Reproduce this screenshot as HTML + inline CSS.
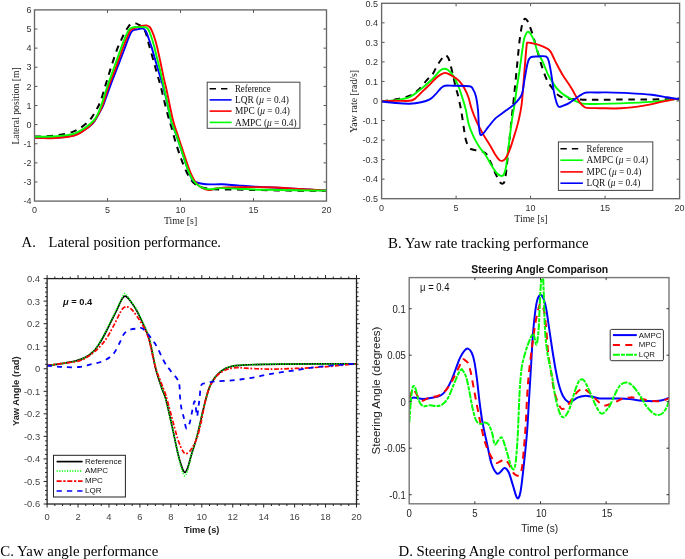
<!DOCTYPE html>
<html><head><meta charset="utf-8"><style>html,body{margin:0;padding:0;background:#fff;width:685px;height:559px;overflow:hidden}svg{display:block;will-change:transform}</style></head>
<body>
<svg width="685" height="559" viewBox="0 0 685 559">
<rect width="685" height="559" fill="#fff"/>
<defs>
<clipPath id="cA"><rect x="34.5" y="10" width="292" height="191"/></clipPath>
<clipPath id="cB"><rect x="381.6" y="3.3" width="298" height="195.4"/></clipPath>
<clipPath id="cC"><rect x="47.1" y="278.6" width="309.4" height="225.4"/></clipPath>
<clipPath id="cD"><rect x="409.2" y="277.6" width="259.8" height="226.2"/></clipPath>
</defs>
<text x="34.50" y="212.80" font-family="Liberation Sans, sans-serif" font-size="9" text-anchor="middle" fill="#333">0</text>
<line x1="107.50" y1="201.10" x2="107.50" y2="198.10" stroke="#555" stroke-width="1" />
<line x1="107.50" y1="9.90" x2="107.50" y2="12.90" stroke="#555" stroke-width="1" />
<text x="107.50" y="212.80" font-family="Liberation Sans, sans-serif" font-size="9" text-anchor="middle" fill="#333">5</text>
<line x1="180.50" y1="201.10" x2="180.50" y2="198.10" stroke="#555" stroke-width="1" />
<line x1="180.50" y1="9.90" x2="180.50" y2="12.90" stroke="#555" stroke-width="1" />
<text x="180.50" y="212.80" font-family="Liberation Sans, sans-serif" font-size="9" text-anchor="middle" fill="#333">10</text>
<line x1="253.50" y1="201.10" x2="253.50" y2="198.10" stroke="#555" stroke-width="1" />
<line x1="253.50" y1="9.90" x2="253.50" y2="12.90" stroke="#555" stroke-width="1" />
<text x="253.50" y="212.80" font-family="Liberation Sans, sans-serif" font-size="9" text-anchor="middle" fill="#333">15</text>
<text x="326.50" y="212.80" font-family="Liberation Sans, sans-serif" font-size="9" text-anchor="middle" fill="#333">20</text>
<text x="31.60" y="204.30" font-family="Liberation Sans, sans-serif" font-size="9" text-anchor="end" fill="#333">-4</text>
<line x1="34.50" y1="181.98" x2="37.50" y2="181.98" stroke="#555" stroke-width="1" />
<line x1="326.50" y1="181.98" x2="323.50" y2="181.98" stroke="#555" stroke-width="1" />
<text x="31.60" y="185.18" font-family="Liberation Sans, sans-serif" font-size="9" text-anchor="end" fill="#333">-3</text>
<line x1="34.50" y1="162.86" x2="37.50" y2="162.86" stroke="#555" stroke-width="1" />
<line x1="326.50" y1="162.86" x2="323.50" y2="162.86" stroke="#555" stroke-width="1" />
<text x="31.60" y="166.06" font-family="Liberation Sans, sans-serif" font-size="9" text-anchor="end" fill="#333">-2</text>
<line x1="34.50" y1="143.74" x2="37.50" y2="143.74" stroke="#555" stroke-width="1" />
<line x1="326.50" y1="143.74" x2="323.50" y2="143.74" stroke="#555" stroke-width="1" />
<text x="31.60" y="146.94" font-family="Liberation Sans, sans-serif" font-size="9" text-anchor="end" fill="#333">-1</text>
<line x1="34.50" y1="124.62" x2="37.50" y2="124.62" stroke="#555" stroke-width="1" />
<line x1="326.50" y1="124.62" x2="323.50" y2="124.62" stroke="#555" stroke-width="1" />
<text x="31.60" y="127.82" font-family="Liberation Sans, sans-serif" font-size="9" text-anchor="end" fill="#333">0</text>
<line x1="34.50" y1="105.50" x2="37.50" y2="105.50" stroke="#555" stroke-width="1" />
<line x1="326.50" y1="105.50" x2="323.50" y2="105.50" stroke="#555" stroke-width="1" />
<text x="31.60" y="108.70" font-family="Liberation Sans, sans-serif" font-size="9" text-anchor="end" fill="#333">1</text>
<line x1="34.50" y1="86.38" x2="37.50" y2="86.38" stroke="#555" stroke-width="1" />
<line x1="326.50" y1="86.38" x2="323.50" y2="86.38" stroke="#555" stroke-width="1" />
<text x="31.60" y="89.58" font-family="Liberation Sans, sans-serif" font-size="9" text-anchor="end" fill="#333">2</text>
<line x1="34.50" y1="67.26" x2="37.50" y2="67.26" stroke="#555" stroke-width="1" />
<line x1="326.50" y1="67.26" x2="323.50" y2="67.26" stroke="#555" stroke-width="1" />
<text x="31.60" y="70.46" font-family="Liberation Sans, sans-serif" font-size="9" text-anchor="end" fill="#333">3</text>
<line x1="34.50" y1="48.14" x2="37.50" y2="48.14" stroke="#555" stroke-width="1" />
<line x1="326.50" y1="48.14" x2="323.50" y2="48.14" stroke="#555" stroke-width="1" />
<text x="31.60" y="51.34" font-family="Liberation Sans, sans-serif" font-size="9" text-anchor="end" fill="#333">4</text>
<line x1="34.50" y1="29.02" x2="37.50" y2="29.02" stroke="#555" stroke-width="1" />
<line x1="326.50" y1="29.02" x2="323.50" y2="29.02" stroke="#555" stroke-width="1" />
<text x="31.60" y="32.22" font-family="Liberation Sans, sans-serif" font-size="9" text-anchor="end" fill="#333">5</text>
<text x="31.60" y="13.10" font-family="Liberation Sans, sans-serif" font-size="9" text-anchor="end" fill="#333">6</text>
<path d="M34.50,136.60 C36.25,136.57 40.95,136.67 45.00,136.40 C49.05,136.13 54.30,135.72 58.80,135.00 C63.30,134.28 68.35,133.32 72.00,132.10 C75.65,130.88 77.78,129.65 80.70,127.70 C83.62,125.75 87.07,123.07 89.50,120.40 C91.93,117.73 93.45,114.92 95.30,111.70 C97.15,108.48 98.82,105.78 100.60,101.10 C102.38,96.42 104.20,89.42 106.00,83.60 C107.80,77.78 109.60,71.78 111.40,66.20 C113.20,60.62 115.12,54.57 116.80,50.10 C118.48,45.63 120.22,42.25 121.50,39.40 C122.78,36.55 123.50,34.90 124.50,33.00 C125.50,31.10 126.50,29.45 127.50,28.00 C128.50,26.55 129.50,25.10 130.50,24.30 C131.50,23.50 132.50,23.32 133.50,23.20 C134.50,23.08 135.58,23.33 136.50,23.60 C137.42,23.87 138.17,24.35 139.00,24.80 C139.83,25.25 140.67,25.63 141.50,26.30 C142.33,26.97 143.17,27.35 144.00,28.80 C144.83,30.25 145.62,32.13 146.50,35.00 C147.38,37.87 148.05,41.42 149.30,46.00 C150.55,50.58 152.67,57.70 154.00,62.50 C155.33,67.30 156.25,71.10 157.30,74.80 C158.35,78.50 159.18,80.50 160.30,84.70 C161.42,88.90 162.72,94.82 164.00,100.00 C165.28,105.18 166.78,111.35 168.00,115.80 C169.22,120.25 170.07,122.42 171.30,126.70 C172.53,130.98 173.83,136.35 175.40,141.50 C176.97,146.65 178.92,152.68 180.70,157.60 C182.48,162.52 184.30,167.20 186.10,171.00 C187.90,174.80 189.93,178.17 191.50,180.40 C193.07,182.63 193.75,183.22 195.50,184.40 C197.25,185.58 198.88,186.68 202.00,187.50 C205.12,188.32 209.25,188.97 214.20,189.30 C219.15,189.63 225.47,189.40 231.70,189.50 C237.93,189.60 242.25,189.72 251.60,189.90 C260.95,190.08 275.32,190.45 287.80,190.60 C300.28,190.75 320.05,190.77 326.50,190.80" fill="none" stroke="#000" stroke-width="2" stroke-linejoin="round" stroke-linecap="butt" stroke-dasharray="6.5 5.6" clip-path="url(#cA)"/>
<path d="M34.50,137.60 C37.33,137.68 45.02,138.43 51.50,138.10 C57.98,137.77 68.05,136.87 73.40,135.60 C78.75,134.33 80.43,132.47 83.60,130.50 C86.77,128.53 90.17,126.05 92.40,123.80 C94.63,121.55 95.68,119.13 97.00,117.00 C98.32,114.87 99.23,113.00 100.30,111.00 C101.37,109.00 101.77,109.12 103.40,105.00 C105.03,100.88 107.87,92.32 110.10,86.30 C112.33,80.28 114.57,74.70 116.80,68.90 C119.03,63.10 121.72,56.20 123.50,51.50 C125.28,46.80 126.33,43.70 127.50,40.70 C128.67,37.70 129.53,35.23 130.50,33.50 C131.47,31.77 132.13,31.00 133.30,30.30 C134.47,29.60 136.38,29.57 137.50,29.30 C138.62,29.03 139.05,28.82 140.00,28.70 C140.95,28.58 142.22,28.17 143.20,28.60 C144.18,29.03 145.00,29.68 145.90,31.30 C146.80,32.92 147.62,35.53 148.60,38.30 C149.58,41.07 150.55,43.80 151.80,47.90 C153.05,52.00 154.85,58.60 156.10,62.90 C157.35,67.20 158.27,70.25 159.30,73.70 C160.33,77.15 161.10,79.22 162.30,83.60 C163.50,87.98 165.12,94.10 166.50,100.00 C167.88,105.90 169.68,115.08 170.60,119.00 C171.52,122.92 170.98,120.65 172.00,123.50 C173.02,126.35 175.02,131.32 176.70,136.10 C178.38,140.88 180.32,146.83 182.10,152.20 C183.88,157.57 186.00,164.33 187.40,168.30 C188.80,172.27 189.60,173.98 190.50,176.00 C191.40,178.02 191.75,179.33 192.80,180.40 C193.85,181.47 195.23,181.83 196.80,182.40 C198.37,182.97 200.00,183.47 202.20,183.80 C204.40,184.13 206.63,184.32 210.00,184.40 C213.37,184.48 217.80,184.13 222.40,184.30 C227.00,184.47 232.17,185.02 237.60,185.40 C243.03,185.78 245.72,186.07 255.00,186.60 C264.28,187.13 281.38,187.93 293.30,188.60 C305.22,189.27 320.97,190.27 326.50,190.60" fill="none" stroke="#0000ff" stroke-width="1.9" stroke-linejoin="round" stroke-linecap="butt" clip-path="url(#cA)"/>
<path d="M34.50,137.70 C37.33,137.78 45.02,138.52 51.50,138.20 C57.98,137.88 68.05,137.05 73.40,135.80 C78.75,134.55 80.43,132.77 83.60,130.70 C86.77,128.63 89.97,126.08 92.40,123.40 C94.83,120.72 96.48,117.67 98.20,114.60 C99.92,111.53 100.95,109.72 102.70,105.00 C104.45,100.28 106.58,92.32 108.70,86.30 C110.82,80.28 113.17,74.93 115.40,68.90 C117.63,62.87 120.20,55.25 122.10,50.10 C124.00,44.95 125.45,41.25 126.80,38.00 C128.15,34.75 129.00,32.22 130.20,30.60 C131.40,28.98 132.58,28.92 134.00,28.30 C135.42,27.68 137.33,27.30 138.70,26.90 C140.07,26.50 140.92,26.15 142.20,25.90 C143.48,25.65 145.15,25.22 146.40,25.40 C147.65,25.58 148.80,26.12 149.70,27.00 C150.60,27.88 150.92,28.65 151.80,30.70 C152.68,32.75 153.92,35.72 155.00,39.30 C156.08,42.88 157.22,47.55 158.30,52.20 C159.38,56.85 160.52,62.57 161.50,67.20 C162.48,71.83 163.35,76.20 164.20,80.00 C165.05,83.80 165.18,83.50 166.60,90.00 C168.02,96.50 170.80,111.32 172.70,119.00 C174.60,126.68 176.22,130.57 178.00,136.10 C179.78,141.63 181.60,146.83 183.40,152.20 C185.20,157.57 187.23,164.05 188.80,168.30 C190.37,172.55 191.47,175.12 192.80,177.70 C194.13,180.28 195.23,182.12 196.80,183.80 C198.37,185.48 200.40,186.80 202.20,187.80 C204.00,188.80 206.13,189.43 207.60,189.80 C209.07,190.17 209.70,190.23 211.00,190.00 C212.30,189.77 212.92,188.83 215.40,188.40 C217.88,187.97 221.23,187.60 225.90,187.40 C230.57,187.20 236.88,187.23 243.40,187.20 C249.92,187.17 257.60,187.05 265.00,187.20 C272.40,187.35 280.35,187.72 287.80,188.10 C295.25,188.48 303.25,189.08 309.70,189.50 C316.15,189.92 323.70,190.42 326.50,190.60" fill="none" stroke="#ff0000" stroke-width="1.9" stroke-linejoin="round" stroke-linecap="butt" clip-path="url(#cA)"/>
<path d="M34.50,136.90 C38.07,136.78 49.42,136.70 55.90,136.20 C62.38,135.70 68.53,135.32 73.40,133.90 C78.27,132.48 81.68,129.95 85.10,127.70 C88.52,125.45 91.72,122.83 93.90,120.40 C96.08,117.97 96.95,115.67 98.20,113.10 C99.45,110.53 99.87,109.47 101.40,105.00 C102.93,100.53 105.28,92.55 107.40,86.30 C109.52,80.05 111.87,73.75 114.10,67.50 C116.33,61.25 118.90,53.93 120.80,48.80 C122.70,43.67 124.10,39.92 125.50,36.70 C126.90,33.48 127.98,31.07 129.20,29.50 C130.42,27.93 131.42,27.70 132.80,27.30 C134.18,26.90 135.40,27.10 137.50,27.10 C139.60,27.10 143.63,26.97 145.40,27.30 C147.17,27.63 147.22,27.82 148.10,29.10 C148.98,30.38 149.72,32.22 150.70,35.00 C151.68,37.78 152.92,41.85 154.00,45.80 C155.08,49.75 156.13,54.42 157.20,58.70 C158.27,62.98 159.18,66.28 160.40,71.50 C161.62,76.72 162.78,82.08 164.50,90.00 C166.22,97.92 169.45,113.42 170.70,119.00 C171.95,124.58 171.00,120.65 172.00,123.50 C173.00,126.35 175.02,131.32 176.70,136.10 C178.38,140.88 180.32,146.83 182.10,152.20 C183.88,157.57 185.83,164.05 187.40,168.30 C188.97,172.55 190.15,175.23 191.50,177.70 C192.85,180.17 193.93,181.53 195.50,183.10 C197.07,184.67 198.88,186.10 200.90,187.10 C202.92,188.10 205.58,188.78 207.60,189.10 C209.62,189.42 210.93,189.17 213.00,189.00 C215.07,188.83 215.90,188.15 220.00,188.10 C224.10,188.05 230.10,188.42 237.60,188.70 C245.10,188.98 250.18,189.48 265.00,189.80 C279.82,190.12 316.25,190.47 326.50,190.60" fill="none" stroke="#00ff00" stroke-width="1.9" stroke-linejoin="round" stroke-linecap="butt" clip-path="url(#cA)"/>
<rect x="34.5" y="9.9" width="292.0" height="191.2" fill="none" stroke="#676767" stroke-width="1.35"/>
<text x="180.60" y="223.60" font-family="Liberation Serif, serif" font-size="9.8" text-anchor="middle" fill="#222" textLength="33.3" lengthAdjust="spacingAndGlyphs">Time [s]</text>
<text x="18.60" y="105.90" font-family="Liberation Serif, serif" font-size="9.7" text-anchor="middle" fill="#222" textLength="77.3" lengthAdjust="spacingAndGlyphs" transform="rotate(-90 18.60 105.90)">Lateral position [m]</text>
<rect x="207.2" y="82.2" width="92.7" height="46.1" fill="#fff" stroke="#444" stroke-width="1"/>
<line x1="209.60" y1="88.70" x2="231.60" y2="88.70" stroke="#000" stroke-width="1.6" stroke-dasharray="6.4 5"/>
<text x="235.00" y="91.90" font-family="Liberation Serif, serif" font-size="9.4" text-anchor="start" fill="#111" textLength="35.7" lengthAdjust="spacingAndGlyphs">Reference</text>
<line x1="209.60" y1="99.90" x2="231.60" y2="99.90" stroke="#0000ff" stroke-width="1.6" />
<text x="235" y="103.10" font-family="Liberation Serif, serif" font-size="9.4" fill="#111">LQR (<tspan font-style="italic">μ</tspan> = 0.4)</text>
<line x1="209.60" y1="111.10" x2="231.60" y2="111.10" stroke="#ff0000" stroke-width="1.6" />
<text x="235" y="114.30" font-family="Liberation Serif, serif" font-size="9.4" fill="#111">MPC (<tspan font-style="italic">μ</tspan> = 0.4)</text>
<line x1="209.60" y1="122.40" x2="231.60" y2="122.40" stroke="#00ff00" stroke-width="1.6" />
<text x="235" y="125.60" font-family="Liberation Serif, serif" font-size="9.4" fill="#111">AMPC (<tspan font-style="italic">μ</tspan> = 0.4)</text>
<text x="381.60" y="210.80" font-family="Liberation Sans, sans-serif" font-size="9" text-anchor="middle" fill="#333">0</text>
<line x1="456.10" y1="198.70" x2="456.10" y2="195.70" stroke="#555" stroke-width="1" />
<line x1="456.10" y1="3.30" x2="456.10" y2="6.30" stroke="#555" stroke-width="1" />
<text x="456.10" y="210.80" font-family="Liberation Sans, sans-serif" font-size="9" text-anchor="middle" fill="#333">5</text>
<line x1="530.60" y1="198.70" x2="530.60" y2="195.70" stroke="#555" stroke-width="1" />
<line x1="530.60" y1="3.30" x2="530.60" y2="6.30" stroke="#555" stroke-width="1" />
<text x="530.60" y="210.80" font-family="Liberation Sans, sans-serif" font-size="9" text-anchor="middle" fill="#333">10</text>
<line x1="605.10" y1="198.70" x2="605.10" y2="195.70" stroke="#555" stroke-width="1" />
<line x1="605.10" y1="3.30" x2="605.10" y2="6.30" stroke="#555" stroke-width="1" />
<text x="605.10" y="210.80" font-family="Liberation Sans, sans-serif" font-size="9" text-anchor="middle" fill="#333">15</text>
<text x="679.60" y="210.80" font-family="Liberation Sans, sans-serif" font-size="9" text-anchor="middle" fill="#333">20</text>
<text x="378.10" y="201.90" font-family="Liberation Sans, sans-serif" font-size="9" text-anchor="end" fill="#333">-0.5</text>
<line x1="381.60" y1="179.16" x2="384.60" y2="179.16" stroke="#555" stroke-width="1" />
<line x1="679.60" y1="179.16" x2="676.60" y2="179.16" stroke="#555" stroke-width="1" />
<text x="378.10" y="182.36" font-family="Liberation Sans, sans-serif" font-size="9" text-anchor="end" fill="#333">-0.4</text>
<line x1="381.60" y1="159.62" x2="384.60" y2="159.62" stroke="#555" stroke-width="1" />
<line x1="679.60" y1="159.62" x2="676.60" y2="159.62" stroke="#555" stroke-width="1" />
<text x="378.10" y="162.82" font-family="Liberation Sans, sans-serif" font-size="9" text-anchor="end" fill="#333">-0.3</text>
<line x1="381.60" y1="140.08" x2="384.60" y2="140.08" stroke="#555" stroke-width="1" />
<line x1="679.60" y1="140.08" x2="676.60" y2="140.08" stroke="#555" stroke-width="1" />
<text x="378.10" y="143.28" font-family="Liberation Sans, sans-serif" font-size="9" text-anchor="end" fill="#333">-0.2</text>
<line x1="381.60" y1="120.54" x2="384.60" y2="120.54" stroke="#555" stroke-width="1" />
<line x1="679.60" y1="120.54" x2="676.60" y2="120.54" stroke="#555" stroke-width="1" />
<text x="378.10" y="123.74" font-family="Liberation Sans, sans-serif" font-size="9" text-anchor="end" fill="#333">-0.1</text>
<line x1="381.60" y1="101.00" x2="384.60" y2="101.00" stroke="#555" stroke-width="1" />
<line x1="679.60" y1="101.00" x2="676.60" y2="101.00" stroke="#555" stroke-width="1" />
<text x="378.10" y="104.20" font-family="Liberation Sans, sans-serif" font-size="9" text-anchor="end" fill="#333">0</text>
<line x1="381.60" y1="81.46" x2="384.60" y2="81.46" stroke="#555" stroke-width="1" />
<line x1="679.60" y1="81.46" x2="676.60" y2="81.46" stroke="#555" stroke-width="1" />
<text x="378.10" y="84.66" font-family="Liberation Sans, sans-serif" font-size="9" text-anchor="end" fill="#333">0.1</text>
<line x1="381.60" y1="61.92" x2="384.60" y2="61.92" stroke="#555" stroke-width="1" />
<line x1="679.60" y1="61.92" x2="676.60" y2="61.92" stroke="#555" stroke-width="1" />
<text x="378.10" y="65.12" font-family="Liberation Sans, sans-serif" font-size="9" text-anchor="end" fill="#333">0.2</text>
<line x1="381.60" y1="42.38" x2="384.60" y2="42.38" stroke="#555" stroke-width="1" />
<line x1="679.60" y1="42.38" x2="676.60" y2="42.38" stroke="#555" stroke-width="1" />
<text x="378.10" y="45.58" font-family="Liberation Sans, sans-serif" font-size="9" text-anchor="end" fill="#333">0.3</text>
<line x1="381.60" y1="22.84" x2="384.60" y2="22.84" stroke="#555" stroke-width="1" />
<line x1="679.60" y1="22.84" x2="676.60" y2="22.84" stroke="#555" stroke-width="1" />
<text x="378.10" y="26.04" font-family="Liberation Sans, sans-serif" font-size="9" text-anchor="end" fill="#333">0.4</text>
<text x="378.10" y="6.50" font-family="Liberation Sans, sans-serif" font-size="9" text-anchor="end" fill="#333">0.5</text>
<path d="M381.60,101.30 C383.88,100.98 390.63,100.32 395.30,99.40 C399.97,98.48 405.78,97.35 409.60,95.80 C413.42,94.25 415.33,92.72 418.20,90.10 C421.07,87.48 424.45,82.67 426.80,80.10 C429.15,77.53 430.60,77.07 432.30,74.70 C434.00,72.33 435.45,68.52 437.00,65.90 C438.55,63.28 440.25,60.78 441.60,59.00 C442.95,57.22 444.13,55.60 445.10,55.20 C446.07,54.80 446.72,55.78 447.40,56.60 C448.08,57.42 448.62,58.45 449.20,60.10 C449.78,61.75 450.22,63.78 450.90,66.50 C451.58,69.22 452.52,73.00 453.30,76.40 C454.08,79.80 454.83,83.80 455.60,86.90 C456.37,90.00 457.13,91.90 457.90,95.00 C458.67,98.10 459.58,102.52 460.20,105.50 C460.82,108.48 461.02,109.28 461.60,112.90 C462.18,116.52 462.98,122.67 463.70,127.20 C464.42,131.73 464.93,136.63 465.90,140.10 C466.87,143.57 467.95,146.33 469.50,148.00 C471.05,149.67 473.07,149.52 475.20,150.10 C477.33,150.68 480.40,150.78 482.30,151.50 C484.20,152.22 485.17,152.48 486.60,154.40 C488.03,156.32 489.47,159.90 490.90,163.00 C492.33,166.10 493.77,169.90 495.20,173.00 C496.63,176.10 498.30,179.82 499.50,181.60 C500.70,183.38 501.57,183.70 502.40,183.70 C503.23,183.70 503.90,183.38 504.50,181.60 C505.10,179.82 505.52,176.58 506.00,173.00 C506.48,169.42 506.80,165.83 507.40,160.10 C508.00,154.37 508.92,145.28 509.60,138.60 C510.28,131.92 510.80,126.63 511.50,120.00 C512.20,113.37 512.93,107.25 513.80,98.80 C514.67,90.35 515.72,79.15 516.70,69.30 C517.68,59.45 518.77,47.33 519.70,39.70 C520.63,32.07 521.58,26.87 522.30,23.50 C523.02,20.13 523.45,20.27 524.00,19.50 C524.55,18.73 525.02,18.65 525.60,18.90 C526.18,19.15 526.83,19.88 527.50,21.00 C528.17,22.12 528.60,22.88 529.60,25.60 C530.60,28.32 532.20,33.05 533.50,37.30 C534.80,41.55 536.08,46.50 537.40,51.10 C538.72,55.70 539.92,60.32 541.40,64.90 C542.88,69.48 544.63,74.92 546.30,78.60 C547.97,82.28 549.33,84.18 551.40,87.00 C553.47,89.82 556.02,93.58 558.70,95.50 C561.38,97.42 563.77,97.82 567.50,98.50 C571.23,99.18 575.68,99.40 581.10,99.60 C586.52,99.80 583.58,99.77 600.00,99.70 C616.42,99.63 666.33,99.28 679.60,99.20" fill="none" stroke="#000" stroke-width="2" stroke-linejoin="round" stroke-linecap="butt" stroke-dasharray="6.5 5.6" clip-path="url(#cB)"/>
<path d="M381.60,101.30 C383.88,101.10 390.63,100.78 395.30,100.10 C399.97,99.42 405.30,99.07 409.60,97.20 C413.90,95.33 417.70,91.55 421.10,88.90 C424.50,86.25 427.55,83.57 430.00,81.30 C432.45,79.03 434.05,77.15 435.80,75.30 C437.55,73.45 439.05,71.28 440.50,70.20 C441.95,69.12 443.25,68.83 444.50,68.80 C445.75,68.77 446.73,69.12 448.00,70.00 C449.27,70.88 450.83,72.45 452.10,74.10 C453.37,75.75 454.43,77.58 455.60,79.90 C456.77,82.22 457.93,84.90 459.10,88.00 C460.27,91.10 461.47,94.83 462.60,98.50 C463.73,102.17 464.88,105.70 465.90,110.00 C466.92,114.30 467.38,119.77 468.70,124.30 C470.02,128.83 472.00,133.38 473.80,137.20 C475.60,141.02 477.60,144.33 479.50,147.20 C481.40,150.07 483.30,151.53 485.20,154.40 C487.10,157.27 488.98,161.30 490.90,164.40 C492.82,167.50 495.02,171.08 496.70,173.00 C498.38,174.92 499.82,175.67 501.00,175.90 C502.18,176.13 502.97,175.83 503.80,174.40 C504.63,172.97 505.40,170.40 506.00,167.30 C506.60,164.20 506.80,160.58 507.40,155.80 C508.00,151.02 508.88,144.32 509.60,138.60 C510.32,132.88 510.92,126.93 511.70,121.50 C512.48,116.07 513.50,111.25 514.30,106.00 C515.10,100.75 515.60,96.12 516.50,90.00 C517.40,83.88 518.52,77.35 519.70,69.30 C520.88,61.25 522.63,47.42 523.60,41.70 C524.57,35.98 524.83,36.65 525.50,35.00 C526.17,33.35 526.77,32.00 527.60,31.80 C528.43,31.60 529.35,32.15 530.50,33.80 C531.65,35.45 533.35,38.75 534.50,41.70 C535.65,44.65 536.10,48.30 537.40,51.50 C538.70,54.70 540.50,57.00 542.30,60.90 C544.10,64.80 546.42,71.22 548.20,74.90 C549.98,78.58 551.40,80.57 553.00,83.00 C554.60,85.43 555.92,87.48 557.80,89.50 C559.68,91.52 562.02,93.50 564.30,95.10 C566.58,96.70 569.10,97.90 571.50,99.10 C573.90,100.30 576.43,101.50 578.70,102.30 C580.97,103.10 581.55,103.63 585.10,103.90 C588.65,104.17 594.02,103.98 600.00,103.90 C605.98,103.82 612.40,103.73 621.00,103.40 C629.60,103.07 643.43,102.48 651.60,101.90 C659.77,101.32 665.33,100.48 670.00,99.90 C674.67,99.32 678.00,98.65 679.60,98.40" fill="none" stroke="#00ff00" stroke-width="1.9" stroke-linejoin="round" stroke-linecap="butt" clip-path="url(#cB)"/>
<path d="M381.60,101.30 C383.88,101.22 390.63,100.88 395.30,100.80 C399.97,100.72 406.27,101.20 409.60,100.80 C412.93,100.40 412.92,100.18 415.30,98.40 C417.68,96.62 421.45,92.43 423.90,90.10 C426.35,87.77 428.02,86.38 430.00,84.40 C431.98,82.42 434.05,79.83 435.80,78.20 C437.55,76.57 438.95,75.48 440.50,74.60 C442.05,73.72 443.55,72.88 445.10,72.90 C446.65,72.92 448.05,73.83 449.80,74.70 C451.55,75.57 453.87,76.85 455.60,78.10 C457.33,79.35 458.65,80.35 460.20,82.20 C461.75,84.05 463.53,86.68 464.90,89.20 C466.27,91.72 467.22,93.83 468.40,97.30 C469.58,100.77 470.63,105.97 472.00,110.00 C473.37,114.03 474.88,117.68 476.60,121.50 C478.32,125.32 480.15,129.08 482.30,132.90 C484.45,136.72 487.35,140.82 489.50,144.40 C491.65,147.98 493.53,151.78 495.20,154.40 C496.87,157.02 498.30,159.03 499.50,160.10 C500.70,161.17 501.43,161.03 502.40,160.80 C503.37,160.57 504.10,160.48 505.30,158.70 C506.50,156.92 508.18,153.68 509.60,150.10 C511.02,146.52 512.40,141.73 513.80,137.20 C515.20,132.67 516.70,128.32 518.00,122.90 C519.30,117.48 520.50,113.63 521.60,104.70 C522.70,95.77 523.77,79.15 524.60,69.30 C525.43,59.45 526.07,50.03 526.60,45.60 C527.13,41.17 526.82,43.08 527.80,42.70 C528.78,42.32 530.80,42.98 532.50,43.30 C534.20,43.62 536.03,43.95 538.00,44.60 C539.97,45.25 542.27,46.12 544.30,47.20 C546.33,48.28 548.23,48.48 550.20,51.10 C552.17,53.72 554.02,58.92 556.10,62.90 C558.18,66.88 560.53,71.38 562.70,75.00 C564.87,78.62 567.37,81.92 569.10,84.60 C570.83,87.28 571.77,88.82 573.10,91.10 C574.43,93.38 575.90,96.30 577.10,98.30 C578.30,100.30 579.23,101.77 580.30,103.10 C581.37,104.43 582.42,105.50 583.50,106.30 C584.58,107.10 584.05,107.58 586.80,107.90 C589.55,108.22 594.30,108.13 600.00,108.20 C605.70,108.27 613.67,108.73 621.00,108.30 C628.33,107.87 636.85,106.75 644.00,105.60 C651.15,104.45 657.97,102.60 663.90,101.40 C669.83,100.20 676.98,98.90 679.60,98.40" fill="none" stroke="#ff0000" stroke-width="1.9" stroke-linejoin="round" stroke-linecap="butt" clip-path="url(#cB)"/>
<path d="M381.60,101.50 C383.88,101.75 390.63,102.63 395.30,103.00 C399.97,103.37 405.30,103.82 409.60,103.70 C413.90,103.58 417.75,103.02 421.10,102.30 C424.45,101.58 427.32,100.72 429.70,99.40 C432.08,98.08 433.50,96.30 435.40,94.40 C437.30,92.50 439.48,89.45 441.10,88.00 C442.72,86.55 443.07,86.08 445.10,85.70 C447.13,85.32 449.23,85.60 453.30,85.70 C457.37,85.80 466.22,85.72 469.50,86.30 C472.78,86.88 471.93,87.55 473.00,89.20 C474.07,90.85 475.07,92.73 475.90,96.20 C476.73,99.67 477.52,105.32 478.00,110.00 C478.48,114.68 478.43,120.25 478.80,124.30 C479.17,128.35 479.48,132.75 480.20,134.30 C480.92,135.85 481.78,134.78 483.10,133.60 C484.42,132.42 486.08,129.70 488.10,127.20 C490.12,124.70 493.05,120.75 495.20,118.60 C497.35,116.45 499.22,115.63 501.00,114.30 C502.78,112.97 503.77,112.20 505.90,110.60 C508.03,109.00 511.18,107.32 513.80,104.70 C516.42,102.08 519.80,99.17 521.60,94.90 C523.40,90.63 523.60,84.37 524.60,79.10 C525.60,73.83 526.62,66.92 527.60,63.30 C528.58,59.68 528.77,58.53 530.50,57.40 C532.23,56.27 535.37,56.63 538.00,56.50 C540.63,56.37 544.43,55.53 546.30,56.60 C548.17,57.67 548.35,59.83 549.20,62.90 C550.05,65.97 550.63,70.30 551.40,75.00 C552.17,79.70 553.00,86.68 553.80,91.10 C554.60,95.52 555.38,98.90 556.20,101.50 C557.02,104.10 557.62,105.97 558.70,106.70 C559.78,107.43 560.97,106.50 562.70,105.90 C564.43,105.30 566.70,104.50 569.10,103.10 C571.50,101.70 574.97,98.97 577.10,97.50 C579.23,96.03 580.28,95.13 581.90,94.30 C583.52,93.47 583.78,92.80 586.80,92.50 C589.82,92.20 596.85,92.52 600.00,92.50 C603.15,92.48 600.93,92.30 605.70,92.40 C610.47,92.50 620.95,92.70 628.60,93.10 C636.25,93.50 645.20,94.10 651.60,94.80 C658.00,95.50 662.90,96.63 667.00,97.30 C671.10,97.97 674.10,98.62 676.20,98.80 C678.30,98.98 679.03,98.47 679.60,98.40" fill="none" stroke="#0000ff" stroke-width="1.9" stroke-linejoin="round" stroke-linecap="butt" clip-path="url(#cB)"/>
<rect x="381.6" y="3.3" width="298.0" height="195.39999999999998" fill="none" stroke="#676767" stroke-width="1.35"/>
<text x="530.90" y="221.80" font-family="Liberation Serif, serif" font-size="9.8" text-anchor="middle" fill="#222" textLength="33.3" lengthAdjust="spacingAndGlyphs">Time [s]</text>
<text x="357.20" y="101.30" font-family="Liberation Serif, serif" font-size="9.8" text-anchor="middle" fill="#222" textLength="62.9" lengthAdjust="spacingAndGlyphs" transform="rotate(-90 357.20 101.30)">Yaw rate [rad/s]</text>
<rect x="558.4" y="141.9" width="94.4" height="48.5" fill="#fff" stroke="#444" stroke-width="1"/>
<line x1="560.40" y1="148.70" x2="582.90" y2="148.70" stroke="#000" stroke-width="1.6" stroke-dasharray="6.4 5"/>
<text x="586.60" y="151.90" font-family="Liberation Serif, serif" font-size="9.4" text-anchor="start" fill="#111" textLength="36.3" lengthAdjust="spacingAndGlyphs">Reference</text>
<line x1="560.40" y1="160.20" x2="582.90" y2="160.20" stroke="#00ff00" stroke-width="1.6" />
<text x="586.6" y="163.40" font-family="Liberation Serif, serif" font-size="9.4" fill="#111">AMPC (<tspan font-style="italic">μ</tspan> = 0.4)</text>
<line x1="560.40" y1="171.90" x2="582.90" y2="171.90" stroke="#ff0000" stroke-width="1.6" />
<text x="586.6" y="175.10" font-family="Liberation Serif, serif" font-size="9.4" fill="#111">MPC (<tspan font-style="italic">μ</tspan> = 0.4)</text>
<line x1="560.40" y1="183.20" x2="582.90" y2="183.20" stroke="#0000ff" stroke-width="1.6" />
<text x="586.6" y="186.40" font-family="Liberation Serif, serif" font-size="9.4" fill="#111">LQR (<tspan font-style="italic">μ</tspan> = 0.4)</text>
<path d="M47.00,365.50 C49.68,365.13 58.27,364.07 63.10,363.30 C67.93,362.53 72.25,361.90 76.00,360.90 C79.75,359.90 82.65,358.92 85.60,357.30 C88.55,355.68 91.30,353.65 93.70,351.20 C96.10,348.75 98.05,345.63 100.00,342.60 C101.95,339.57 103.62,336.38 105.40,333.00 C107.18,329.62 108.92,325.88 110.70,322.30 C112.48,318.72 114.55,314.72 116.10,311.50 C117.65,308.28 118.97,305.15 120.00,303.00 C121.03,300.85 121.63,299.67 122.30,298.60 C122.97,297.53 123.52,297.00 124.00,296.60 C124.48,296.20 124.77,296.17 125.20,296.20 C125.63,296.23 125.97,296.30 126.60,296.80 C127.23,297.30 127.72,297.57 129.00,299.20 C130.28,300.83 132.93,304.53 134.30,306.60 C135.67,308.67 135.90,309.12 137.20,311.60 C138.50,314.08 140.32,317.60 142.10,321.50 C143.88,325.40 146.47,331.05 147.90,335.00 C149.33,338.95 149.87,341.78 150.70,345.20 C151.53,348.62 152.18,352.03 152.90,355.50 C153.62,358.97 154.17,362.50 155.00,366.00 C155.83,369.50 156.72,372.67 157.90,376.50 C159.08,380.33 160.77,385.17 162.10,389.00 C163.43,392.83 164.28,393.48 165.90,399.50 C167.52,405.52 169.83,416.25 171.80,425.10 C173.77,433.95 176.07,445.72 177.70,452.60 C179.33,459.48 180.45,463.12 181.60,466.40 C182.75,469.68 183.62,471.97 184.60,472.30 C185.58,472.63 186.35,471.35 187.50,468.40 C188.65,465.45 189.85,460.18 191.50,454.60 C193.15,449.02 195.43,442.45 197.40,434.90 C199.37,427.35 201.45,416.78 203.30,409.30 C205.15,401.82 207.05,394.57 208.50,390.00 C209.95,385.43 210.63,384.33 212.00,381.90 C213.37,379.47 214.95,377.35 216.70,375.40 C218.45,373.45 220.55,371.55 222.50,370.20 C224.45,368.85 226.25,368.05 228.40,367.30 C230.55,366.55 232.48,366.10 235.40,365.70 C238.32,365.30 241.23,365.13 245.90,364.90 C250.57,364.67 256.88,364.43 263.40,364.30 C269.92,364.17 269.48,364.18 285.00,364.10 C300.52,364.02 344.58,363.85 356.50,363.80" fill="none" stroke="#000" stroke-width="1.7" stroke-linejoin="round" stroke-linecap="butt" clip-path="url(#cC)"/>
<path d="M47.00,365.50 C49.68,365.13 58.27,364.07 63.10,363.30 C67.93,362.53 72.25,361.90 76.00,360.90 C79.75,359.90 82.65,358.92 85.60,357.30 C88.55,355.68 91.38,353.65 93.70,351.20 C96.02,348.75 97.63,345.63 99.50,342.60 C101.37,339.57 103.12,336.38 104.90,333.00 C106.68,329.62 108.42,325.88 110.20,322.30 C111.98,318.72 114.05,314.72 115.60,311.50 C117.15,308.28 118.47,305.15 119.50,303.00 C120.53,300.85 121.17,299.90 121.80,298.60 C122.43,297.30 122.85,296.03 123.30,295.20 C123.75,294.37 124.08,293.77 124.50,293.60 C124.92,293.43 125.38,293.80 125.80,294.20 C126.22,294.60 126.40,295.17 127.00,296.00 C127.60,296.83 128.12,297.43 129.40,299.20 C130.68,300.97 133.33,304.53 134.70,306.60 C136.07,308.67 136.30,309.12 137.60,311.60 C138.90,314.08 140.72,317.60 142.50,321.50 C144.28,325.40 146.87,331.05 148.30,335.00 C149.73,338.95 150.27,341.78 151.10,345.20 C151.93,348.62 152.58,352.03 153.30,355.50 C154.02,358.97 154.57,362.50 155.40,366.00 C156.23,369.50 157.18,372.67 158.30,376.50 C159.42,380.33 160.83,385.17 162.10,389.00 C163.37,392.83 164.28,393.48 165.90,399.50 C167.52,405.52 169.83,416.25 171.80,425.10 C173.77,433.95 176.07,445.35 177.70,452.60 C179.33,459.85 180.45,464.73 181.60,468.60 C182.75,472.47 183.62,475.47 184.60,475.80 C185.58,476.13 186.35,474.13 187.50,470.60 C188.65,467.07 189.85,460.55 191.50,454.60 C193.15,448.65 195.43,442.45 197.40,434.90 C199.37,427.35 201.45,416.78 203.30,409.30 C205.15,401.82 207.05,394.57 208.50,390.00 C209.95,385.43 210.63,384.33 212.00,381.90 C213.37,379.47 214.95,377.35 216.70,375.40 C218.45,373.45 220.55,371.55 222.50,370.20 C224.45,368.85 226.25,368.05 228.40,367.30 C230.55,366.55 232.48,366.10 235.40,365.70 C238.32,365.30 241.23,365.13 245.90,364.90 C250.57,364.67 256.88,364.43 263.40,364.30 C269.92,364.17 269.48,364.18 285.00,364.10 C300.52,364.02 344.58,363.85 356.50,363.80" fill="none" stroke="#00ff00" stroke-width="1.7" stroke-linejoin="round" stroke-linecap="butt" stroke-dasharray="1.1 1.45" clip-path="url(#cC)"/>
<path d="M47.00,365.50 C49.68,365.13 57.73,364.07 63.10,363.30 C68.47,362.53 74.90,362.12 79.20,360.90 C83.50,359.68 85.68,358.15 88.90,356.00 C92.12,353.85 95.55,350.95 98.50,348.00 C101.45,345.05 103.92,342.33 106.60,338.30 C109.28,334.27 112.18,328.37 114.60,323.80 C117.02,319.23 119.48,313.63 121.10,310.90 C122.72,308.17 123.23,308.07 124.30,307.40 C125.37,306.73 126.17,306.45 127.50,306.90 C128.83,307.35 130.42,308.08 132.30,310.10 C134.18,312.12 136.92,316.18 138.80,319.00 C140.68,321.82 142.23,324.50 143.60,327.00 C144.97,329.50 145.98,331.47 147.00,334.00 C148.02,336.53 148.72,338.42 149.70,342.20 C150.68,345.98 151.80,352.07 152.90,356.70 C154.00,361.33 155.07,366.03 156.30,370.00 C157.53,373.97 158.70,376.23 160.30,380.50 C161.90,384.77 163.98,389.48 165.90,395.60 C167.82,401.72 169.83,409.98 171.80,417.20 C173.77,424.42 175.90,433.32 177.70,438.90 C179.50,444.48 181.28,448.25 182.60,450.70 C183.92,453.15 184.45,453.45 185.60,453.60 C186.75,453.75 188.20,452.92 189.50,451.60 C190.80,450.28 192.08,448.15 193.40,445.70 C194.72,443.25 196.08,440.98 197.40,436.90 C198.72,432.82 200.00,427.10 201.30,421.20 C202.60,415.30 204.00,406.70 205.20,401.50 C206.40,396.30 207.50,392.95 208.50,390.00 C209.50,387.05 209.83,386.13 211.20,383.80 C212.57,381.47 214.82,378.07 216.70,376.00 C218.58,373.93 220.55,372.57 222.50,371.40 C224.45,370.23 226.07,369.63 228.40,369.00 C230.73,368.37 233.58,367.73 236.50,367.60 C239.42,367.47 241.42,367.97 245.90,368.20 C250.38,368.43 257.72,368.87 263.40,369.00 C269.08,369.13 273.33,369.15 280.00,369.00 C286.67,368.85 295.62,368.48 303.40,368.10 C311.18,367.72 317.85,367.42 326.70,366.70 C335.55,365.98 351.53,364.28 356.50,363.80" fill="none" stroke="#ff0000" stroke-width="1.7" stroke-linejoin="round" stroke-linecap="butt" stroke-dasharray="4.7 1.6 1.8 2" clip-path="url(#cC)"/>
<path d="M47.00,365.50 C49.68,365.75 57.73,366.75 63.10,367.00 C68.47,367.25 74.37,367.48 79.20,367.00 C84.03,366.52 88.07,365.12 92.10,364.10 C96.13,363.08 99.92,362.52 103.40,360.90 C106.88,359.28 110.32,357.37 113.00,354.40 C115.68,351.43 117.62,346.58 119.50,343.10 C121.38,339.62 122.43,335.77 124.30,333.50 C126.17,331.23 128.55,330.32 130.70,329.50 C132.85,328.68 135.32,328.82 137.20,328.60 C139.08,328.38 140.20,327.28 142.00,328.20 C143.80,329.12 145.65,331.23 148.00,334.10 C150.35,336.97 153.42,340.83 156.10,345.40 C158.78,349.97 161.78,357.40 164.10,361.50 C166.42,365.60 167.77,367.02 170.00,370.00 C172.23,372.98 175.93,376.88 177.50,379.40 C179.07,381.92 178.98,382.28 179.40,385.10 C179.82,387.92 179.68,392.55 180.00,396.30 C180.32,400.05 180.67,404.05 181.30,407.60 C181.93,411.15 182.97,414.15 183.80,417.60 C184.63,421.05 185.37,427.25 186.30,428.30 C187.23,429.35 188.47,426.52 189.40,423.90 C190.33,421.28 191.07,416.35 191.90,412.60 C192.73,408.85 193.77,402.43 194.40,401.40 C195.03,400.37 195.27,403.90 195.70,406.40 C196.13,408.90 196.58,415.98 197.00,416.40 C197.42,416.82 197.78,411.83 198.20,408.90 C198.62,405.97 198.98,402.77 199.50,398.80 C200.02,394.83 200.17,387.70 201.30,385.10 C202.43,382.50 204.62,383.73 206.30,383.20 C207.98,382.67 209.67,382.22 211.40,381.90 C213.13,381.58 213.87,381.50 216.70,381.30 C219.53,381.10 224.52,381.00 228.40,380.70 C232.28,380.40 236.12,379.98 240.00,379.50 C243.88,379.02 247.80,378.48 251.70,377.80 C255.60,377.12 259.50,376.18 263.40,375.40 C267.30,374.62 270.38,373.87 275.10,373.10 C279.82,372.33 285.05,371.77 291.70,370.80 C298.35,369.83 307.22,368.28 315.00,367.30 C322.78,366.32 331.48,365.48 338.40,364.90 C345.32,364.32 353.48,363.98 356.50,363.80" fill="none" stroke="#0000ff" stroke-width="1.8" stroke-linejoin="round" stroke-linecap="butt" stroke-dasharray="5 5" clip-path="url(#cC)"/>
<rect x="47.1" y="278.6" width="309.4" height="225.39999999999998" fill="none" stroke="#222" stroke-width="1.3"/>
<text x="47.10" y="519.80" font-family="Liberation Sans, sans-serif" font-size="9.4" text-anchor="middle" fill="#444">0</text>
<line x1="47.10" y1="504.00" x2="47.10" y2="507.50" stroke="#222" stroke-width="1" />
<line x1="47.10" y1="278.60" x2="47.10" y2="275.10" stroke="#222" stroke-width="1" />
<line x1="54.84" y1="504.00" x2="54.84" y2="506.00" stroke="#222" stroke-width="1" />
<line x1="54.84" y1="278.60" x2="54.84" y2="276.60" stroke="#222" stroke-width="1" />
<line x1="62.57" y1="504.00" x2="62.57" y2="506.00" stroke="#222" stroke-width="1" />
<line x1="62.57" y1="278.60" x2="62.57" y2="276.60" stroke="#222" stroke-width="1" />
<line x1="70.31" y1="504.00" x2="70.31" y2="506.00" stroke="#222" stroke-width="1" />
<line x1="70.31" y1="278.60" x2="70.31" y2="276.60" stroke="#222" stroke-width="1" />
<text x="78.04" y="519.80" font-family="Liberation Sans, sans-serif" font-size="9.4" text-anchor="middle" fill="#444">2</text>
<line x1="78.04" y1="504.00" x2="78.04" y2="507.50" stroke="#222" stroke-width="1" />
<line x1="78.04" y1="278.60" x2="78.04" y2="275.10" stroke="#222" stroke-width="1" />
<line x1="85.78" y1="504.00" x2="85.78" y2="506.00" stroke="#222" stroke-width="1" />
<line x1="85.78" y1="278.60" x2="85.78" y2="276.60" stroke="#222" stroke-width="1" />
<line x1="93.51" y1="504.00" x2="93.51" y2="506.00" stroke="#222" stroke-width="1" />
<line x1="93.51" y1="278.60" x2="93.51" y2="276.60" stroke="#222" stroke-width="1" />
<line x1="101.25" y1="504.00" x2="101.25" y2="506.00" stroke="#222" stroke-width="1" />
<line x1="101.25" y1="278.60" x2="101.25" y2="276.60" stroke="#222" stroke-width="1" />
<text x="108.98" y="519.80" font-family="Liberation Sans, sans-serif" font-size="9.4" text-anchor="middle" fill="#444">4</text>
<line x1="108.98" y1="504.00" x2="108.98" y2="507.50" stroke="#222" stroke-width="1" />
<line x1="108.98" y1="278.60" x2="108.98" y2="275.10" stroke="#222" stroke-width="1" />
<line x1="116.72" y1="504.00" x2="116.72" y2="506.00" stroke="#222" stroke-width="1" />
<line x1="116.72" y1="278.60" x2="116.72" y2="276.60" stroke="#222" stroke-width="1" />
<line x1="124.45" y1="504.00" x2="124.45" y2="506.00" stroke="#222" stroke-width="1" />
<line x1="124.45" y1="278.60" x2="124.45" y2="276.60" stroke="#222" stroke-width="1" />
<line x1="132.19" y1="504.00" x2="132.19" y2="506.00" stroke="#222" stroke-width="1" />
<line x1="132.19" y1="278.60" x2="132.19" y2="276.60" stroke="#222" stroke-width="1" />
<text x="139.92" y="519.80" font-family="Liberation Sans, sans-serif" font-size="9.4" text-anchor="middle" fill="#444">6</text>
<line x1="139.92" y1="504.00" x2="139.92" y2="507.50" stroke="#222" stroke-width="1" />
<line x1="139.92" y1="278.60" x2="139.92" y2="275.10" stroke="#222" stroke-width="1" />
<line x1="147.66" y1="504.00" x2="147.66" y2="506.00" stroke="#222" stroke-width="1" />
<line x1="147.66" y1="278.60" x2="147.66" y2="276.60" stroke="#222" stroke-width="1" />
<line x1="155.39" y1="504.00" x2="155.39" y2="506.00" stroke="#222" stroke-width="1" />
<line x1="155.39" y1="278.60" x2="155.39" y2="276.60" stroke="#222" stroke-width="1" />
<line x1="163.12" y1="504.00" x2="163.12" y2="506.00" stroke="#222" stroke-width="1" />
<line x1="163.12" y1="278.60" x2="163.12" y2="276.60" stroke="#222" stroke-width="1" />
<text x="170.86" y="519.80" font-family="Liberation Sans, sans-serif" font-size="9.4" text-anchor="middle" fill="#444">8</text>
<line x1="170.86" y1="504.00" x2="170.86" y2="507.50" stroke="#222" stroke-width="1" />
<line x1="170.86" y1="278.60" x2="170.86" y2="275.10" stroke="#222" stroke-width="1" />
<line x1="178.59" y1="504.00" x2="178.59" y2="506.00" stroke="#222" stroke-width="1" />
<line x1="178.59" y1="278.60" x2="178.59" y2="276.60" stroke="#222" stroke-width="1" />
<line x1="186.33" y1="504.00" x2="186.33" y2="506.00" stroke="#222" stroke-width="1" />
<line x1="186.33" y1="278.60" x2="186.33" y2="276.60" stroke="#222" stroke-width="1" />
<line x1="194.06" y1="504.00" x2="194.06" y2="506.00" stroke="#222" stroke-width="1" />
<line x1="194.06" y1="278.60" x2="194.06" y2="276.60" stroke="#222" stroke-width="1" />
<text x="201.80" y="519.80" font-family="Liberation Sans, sans-serif" font-size="9.4" text-anchor="middle" fill="#444">10</text>
<line x1="201.80" y1="504.00" x2="201.80" y2="507.50" stroke="#222" stroke-width="1" />
<line x1="201.80" y1="278.60" x2="201.80" y2="275.10" stroke="#222" stroke-width="1" />
<line x1="209.53" y1="504.00" x2="209.53" y2="506.00" stroke="#222" stroke-width="1" />
<line x1="209.53" y1="278.60" x2="209.53" y2="276.60" stroke="#222" stroke-width="1" />
<line x1="217.27" y1="504.00" x2="217.27" y2="506.00" stroke="#222" stroke-width="1" />
<line x1="217.27" y1="278.60" x2="217.27" y2="276.60" stroke="#222" stroke-width="1" />
<line x1="225.00" y1="504.00" x2="225.00" y2="506.00" stroke="#222" stroke-width="1" />
<line x1="225.00" y1="278.60" x2="225.00" y2="276.60" stroke="#222" stroke-width="1" />
<text x="232.74" y="519.80" font-family="Liberation Sans, sans-serif" font-size="9.4" text-anchor="middle" fill="#444">12</text>
<line x1="232.74" y1="504.00" x2="232.74" y2="507.50" stroke="#222" stroke-width="1" />
<line x1="232.74" y1="278.60" x2="232.74" y2="275.10" stroke="#222" stroke-width="1" />
<line x1="240.47" y1="504.00" x2="240.47" y2="506.00" stroke="#222" stroke-width="1" />
<line x1="240.47" y1="278.60" x2="240.47" y2="276.60" stroke="#222" stroke-width="1" />
<line x1="248.21" y1="504.00" x2="248.21" y2="506.00" stroke="#222" stroke-width="1" />
<line x1="248.21" y1="278.60" x2="248.21" y2="276.60" stroke="#222" stroke-width="1" />
<line x1="255.94" y1="504.00" x2="255.94" y2="506.00" stroke="#222" stroke-width="1" />
<line x1="255.94" y1="278.60" x2="255.94" y2="276.60" stroke="#222" stroke-width="1" />
<text x="263.68" y="519.80" font-family="Liberation Sans, sans-serif" font-size="9.4" text-anchor="middle" fill="#444">14</text>
<line x1="263.68" y1="504.00" x2="263.68" y2="507.50" stroke="#222" stroke-width="1" />
<line x1="263.68" y1="278.60" x2="263.68" y2="275.10" stroke="#222" stroke-width="1" />
<line x1="271.41" y1="504.00" x2="271.41" y2="506.00" stroke="#222" stroke-width="1" />
<line x1="271.41" y1="278.60" x2="271.41" y2="276.60" stroke="#222" stroke-width="1" />
<line x1="279.15" y1="504.00" x2="279.15" y2="506.00" stroke="#222" stroke-width="1" />
<line x1="279.15" y1="278.60" x2="279.15" y2="276.60" stroke="#222" stroke-width="1" />
<line x1="286.88" y1="504.00" x2="286.88" y2="506.00" stroke="#222" stroke-width="1" />
<line x1="286.88" y1="278.60" x2="286.88" y2="276.60" stroke="#222" stroke-width="1" />
<text x="294.62" y="519.80" font-family="Liberation Sans, sans-serif" font-size="9.4" text-anchor="middle" fill="#444">16</text>
<line x1="294.62" y1="504.00" x2="294.62" y2="507.50" stroke="#222" stroke-width="1" />
<line x1="294.62" y1="278.60" x2="294.62" y2="275.10" stroke="#222" stroke-width="1" />
<line x1="302.35" y1="504.00" x2="302.35" y2="506.00" stroke="#222" stroke-width="1" />
<line x1="302.35" y1="278.60" x2="302.35" y2="276.60" stroke="#222" stroke-width="1" />
<line x1="310.09" y1="504.00" x2="310.09" y2="506.00" stroke="#222" stroke-width="1" />
<line x1="310.09" y1="278.60" x2="310.09" y2="276.60" stroke="#222" stroke-width="1" />
<line x1="317.83" y1="504.00" x2="317.83" y2="506.00" stroke="#222" stroke-width="1" />
<line x1="317.83" y1="278.60" x2="317.83" y2="276.60" stroke="#222" stroke-width="1" />
<text x="325.56" y="519.80" font-family="Liberation Sans, sans-serif" font-size="9.4" text-anchor="middle" fill="#444">18</text>
<line x1="325.56" y1="504.00" x2="325.56" y2="507.50" stroke="#222" stroke-width="1" />
<line x1="325.56" y1="278.60" x2="325.56" y2="275.10" stroke="#222" stroke-width="1" />
<line x1="333.30" y1="504.00" x2="333.30" y2="506.00" stroke="#222" stroke-width="1" />
<line x1="333.30" y1="278.60" x2="333.30" y2="276.60" stroke="#222" stroke-width="1" />
<line x1="341.03" y1="504.00" x2="341.03" y2="506.00" stroke="#222" stroke-width="1" />
<line x1="341.03" y1="278.60" x2="341.03" y2="276.60" stroke="#222" stroke-width="1" />
<line x1="348.76" y1="504.00" x2="348.76" y2="506.00" stroke="#222" stroke-width="1" />
<line x1="348.76" y1="278.60" x2="348.76" y2="276.60" stroke="#222" stroke-width="1" />
<text x="356.50" y="519.80" font-family="Liberation Sans, sans-serif" font-size="9.4" text-anchor="middle" fill="#444">20</text>
<line x1="356.50" y1="504.00" x2="356.50" y2="507.50" stroke="#222" stroke-width="1" />
<line x1="356.50" y1="278.60" x2="356.50" y2="275.10" stroke="#222" stroke-width="1" />
<text x="40.10" y="282.00" font-family="Liberation Sans, sans-serif" font-size="9.4" text-anchor="end" fill="#444">0.4</text>
<line x1="47.10" y1="278.60" x2="43.60" y2="278.60" stroke="#222" stroke-width="1" />
<line x1="356.50" y1="278.60" x2="360.00" y2="278.60" stroke="#222" stroke-width="1" />
<line x1="47.10" y1="283.11" x2="45.10" y2="283.11" stroke="#222" stroke-width="1" />
<line x1="356.50" y1="283.11" x2="358.50" y2="283.11" stroke="#222" stroke-width="1" />
<line x1="47.10" y1="287.62" x2="45.10" y2="287.62" stroke="#222" stroke-width="1" />
<line x1="356.50" y1="287.62" x2="358.50" y2="287.62" stroke="#222" stroke-width="1" />
<line x1="47.10" y1="292.12" x2="45.10" y2="292.12" stroke="#222" stroke-width="1" />
<line x1="356.50" y1="292.12" x2="358.50" y2="292.12" stroke="#222" stroke-width="1" />
<line x1="47.10" y1="296.63" x2="45.10" y2="296.63" stroke="#222" stroke-width="1" />
<line x1="356.50" y1="296.63" x2="358.50" y2="296.63" stroke="#222" stroke-width="1" />
<text x="40.10" y="304.54" font-family="Liberation Sans, sans-serif" font-size="9.4" text-anchor="end" fill="#444">0.3</text>
<line x1="47.10" y1="301.14" x2="43.60" y2="301.14" stroke="#222" stroke-width="1" />
<line x1="356.50" y1="301.14" x2="360.00" y2="301.14" stroke="#222" stroke-width="1" />
<line x1="47.10" y1="305.65" x2="45.10" y2="305.65" stroke="#222" stroke-width="1" />
<line x1="356.50" y1="305.65" x2="358.50" y2="305.65" stroke="#222" stroke-width="1" />
<line x1="47.10" y1="310.16" x2="45.10" y2="310.16" stroke="#222" stroke-width="1" />
<line x1="356.50" y1="310.16" x2="358.50" y2="310.16" stroke="#222" stroke-width="1" />
<line x1="47.10" y1="314.66" x2="45.10" y2="314.66" stroke="#222" stroke-width="1" />
<line x1="356.50" y1="314.66" x2="358.50" y2="314.66" stroke="#222" stroke-width="1" />
<line x1="47.10" y1="319.17" x2="45.10" y2="319.17" stroke="#222" stroke-width="1" />
<line x1="356.50" y1="319.17" x2="358.50" y2="319.17" stroke="#222" stroke-width="1" />
<text x="40.10" y="327.08" font-family="Liberation Sans, sans-serif" font-size="9.4" text-anchor="end" fill="#444">0.2</text>
<line x1="47.10" y1="323.68" x2="43.60" y2="323.68" stroke="#222" stroke-width="1" />
<line x1="356.50" y1="323.68" x2="360.00" y2="323.68" stroke="#222" stroke-width="1" />
<line x1="47.10" y1="328.19" x2="45.10" y2="328.19" stroke="#222" stroke-width="1" />
<line x1="356.50" y1="328.19" x2="358.50" y2="328.19" stroke="#222" stroke-width="1" />
<line x1="47.10" y1="332.70" x2="45.10" y2="332.70" stroke="#222" stroke-width="1" />
<line x1="356.50" y1="332.70" x2="358.50" y2="332.70" stroke="#222" stroke-width="1" />
<line x1="47.10" y1="337.20" x2="45.10" y2="337.20" stroke="#222" stroke-width="1" />
<line x1="356.50" y1="337.20" x2="358.50" y2="337.20" stroke="#222" stroke-width="1" />
<line x1="47.10" y1="341.71" x2="45.10" y2="341.71" stroke="#222" stroke-width="1" />
<line x1="356.50" y1="341.71" x2="358.50" y2="341.71" stroke="#222" stroke-width="1" />
<text x="40.10" y="349.62" font-family="Liberation Sans, sans-serif" font-size="9.4" text-anchor="end" fill="#444">0.1</text>
<line x1="47.10" y1="346.22" x2="43.60" y2="346.22" stroke="#222" stroke-width="1" />
<line x1="356.50" y1="346.22" x2="360.00" y2="346.22" stroke="#222" stroke-width="1" />
<line x1="47.10" y1="350.73" x2="45.10" y2="350.73" stroke="#222" stroke-width="1" />
<line x1="356.50" y1="350.73" x2="358.50" y2="350.73" stroke="#222" stroke-width="1" />
<line x1="47.10" y1="355.24" x2="45.10" y2="355.24" stroke="#222" stroke-width="1" />
<line x1="356.50" y1="355.24" x2="358.50" y2="355.24" stroke="#222" stroke-width="1" />
<line x1="47.10" y1="359.74" x2="45.10" y2="359.74" stroke="#222" stroke-width="1" />
<line x1="356.50" y1="359.74" x2="358.50" y2="359.74" stroke="#222" stroke-width="1" />
<line x1="47.10" y1="364.25" x2="45.10" y2="364.25" stroke="#222" stroke-width="1" />
<line x1="356.50" y1="364.25" x2="358.50" y2="364.25" stroke="#222" stroke-width="1" />
<text x="40.10" y="372.16" font-family="Liberation Sans, sans-serif" font-size="9.4" text-anchor="end" fill="#444">0</text>
<line x1="47.10" y1="368.76" x2="43.60" y2="368.76" stroke="#222" stroke-width="1" />
<line x1="356.50" y1="368.76" x2="360.00" y2="368.76" stroke="#222" stroke-width="1" />
<line x1="47.10" y1="373.27" x2="45.10" y2="373.27" stroke="#222" stroke-width="1" />
<line x1="356.50" y1="373.27" x2="358.50" y2="373.27" stroke="#222" stroke-width="1" />
<line x1="47.10" y1="377.78" x2="45.10" y2="377.78" stroke="#222" stroke-width="1" />
<line x1="356.50" y1="377.78" x2="358.50" y2="377.78" stroke="#222" stroke-width="1" />
<line x1="47.10" y1="382.28" x2="45.10" y2="382.28" stroke="#222" stroke-width="1" />
<line x1="356.50" y1="382.28" x2="358.50" y2="382.28" stroke="#222" stroke-width="1" />
<line x1="47.10" y1="386.79" x2="45.10" y2="386.79" stroke="#222" stroke-width="1" />
<line x1="356.50" y1="386.79" x2="358.50" y2="386.79" stroke="#222" stroke-width="1" />
<text x="40.10" y="394.70" font-family="Liberation Sans, sans-serif" font-size="9.4" text-anchor="end" fill="#444">-0.1</text>
<line x1="47.10" y1="391.30" x2="43.60" y2="391.30" stroke="#222" stroke-width="1" />
<line x1="356.50" y1="391.30" x2="360.00" y2="391.30" stroke="#222" stroke-width="1" />
<line x1="47.10" y1="395.81" x2="45.10" y2="395.81" stroke="#222" stroke-width="1" />
<line x1="356.50" y1="395.81" x2="358.50" y2="395.81" stroke="#222" stroke-width="1" />
<line x1="47.10" y1="400.32" x2="45.10" y2="400.32" stroke="#222" stroke-width="1" />
<line x1="356.50" y1="400.32" x2="358.50" y2="400.32" stroke="#222" stroke-width="1" />
<line x1="47.10" y1="404.82" x2="45.10" y2="404.82" stroke="#222" stroke-width="1" />
<line x1="356.50" y1="404.82" x2="358.50" y2="404.82" stroke="#222" stroke-width="1" />
<line x1="47.10" y1="409.33" x2="45.10" y2="409.33" stroke="#222" stroke-width="1" />
<line x1="356.50" y1="409.33" x2="358.50" y2="409.33" stroke="#222" stroke-width="1" />
<text x="40.10" y="417.24" font-family="Liberation Sans, sans-serif" font-size="9.4" text-anchor="end" fill="#444">-0.2</text>
<line x1="47.10" y1="413.84" x2="43.60" y2="413.84" stroke="#222" stroke-width="1" />
<line x1="356.50" y1="413.84" x2="360.00" y2="413.84" stroke="#222" stroke-width="1" />
<line x1="47.10" y1="418.35" x2="45.10" y2="418.35" stroke="#222" stroke-width="1" />
<line x1="356.50" y1="418.35" x2="358.50" y2="418.35" stroke="#222" stroke-width="1" />
<line x1="47.10" y1="422.86" x2="45.10" y2="422.86" stroke="#222" stroke-width="1" />
<line x1="356.50" y1="422.86" x2="358.50" y2="422.86" stroke="#222" stroke-width="1" />
<line x1="47.10" y1="427.36" x2="45.10" y2="427.36" stroke="#222" stroke-width="1" />
<line x1="356.50" y1="427.36" x2="358.50" y2="427.36" stroke="#222" stroke-width="1" />
<line x1="47.10" y1="431.87" x2="45.10" y2="431.87" stroke="#222" stroke-width="1" />
<line x1="356.50" y1="431.87" x2="358.50" y2="431.87" stroke="#222" stroke-width="1" />
<text x="40.10" y="439.78" font-family="Liberation Sans, sans-serif" font-size="9.4" text-anchor="end" fill="#444">-0.3</text>
<line x1="47.10" y1="436.38" x2="43.60" y2="436.38" stroke="#222" stroke-width="1" />
<line x1="356.50" y1="436.38" x2="360.00" y2="436.38" stroke="#222" stroke-width="1" />
<line x1="47.10" y1="440.89" x2="45.10" y2="440.89" stroke="#222" stroke-width="1" />
<line x1="356.50" y1="440.89" x2="358.50" y2="440.89" stroke="#222" stroke-width="1" />
<line x1="47.10" y1="445.40" x2="45.10" y2="445.40" stroke="#222" stroke-width="1" />
<line x1="356.50" y1="445.40" x2="358.50" y2="445.40" stroke="#222" stroke-width="1" />
<line x1="47.10" y1="449.90" x2="45.10" y2="449.90" stroke="#222" stroke-width="1" />
<line x1="356.50" y1="449.90" x2="358.50" y2="449.90" stroke="#222" stroke-width="1" />
<line x1="47.10" y1="454.41" x2="45.10" y2="454.41" stroke="#222" stroke-width="1" />
<line x1="356.50" y1="454.41" x2="358.50" y2="454.41" stroke="#222" stroke-width="1" />
<text x="40.10" y="462.32" font-family="Liberation Sans, sans-serif" font-size="9.4" text-anchor="end" fill="#444">-0.4</text>
<line x1="47.10" y1="458.92" x2="43.60" y2="458.92" stroke="#222" stroke-width="1" />
<line x1="356.50" y1="458.92" x2="360.00" y2="458.92" stroke="#222" stroke-width="1" />
<line x1="47.10" y1="463.43" x2="45.10" y2="463.43" stroke="#222" stroke-width="1" />
<line x1="356.50" y1="463.43" x2="358.50" y2="463.43" stroke="#222" stroke-width="1" />
<line x1="47.10" y1="467.94" x2="45.10" y2="467.94" stroke="#222" stroke-width="1" />
<line x1="356.50" y1="467.94" x2="358.50" y2="467.94" stroke="#222" stroke-width="1" />
<line x1="47.10" y1="472.44" x2="45.10" y2="472.44" stroke="#222" stroke-width="1" />
<line x1="356.50" y1="472.44" x2="358.50" y2="472.44" stroke="#222" stroke-width="1" />
<line x1="47.10" y1="476.95" x2="45.10" y2="476.95" stroke="#222" stroke-width="1" />
<line x1="356.50" y1="476.95" x2="358.50" y2="476.95" stroke="#222" stroke-width="1" />
<text x="40.10" y="484.86" font-family="Liberation Sans, sans-serif" font-size="9.4" text-anchor="end" fill="#444">-0.5</text>
<line x1="47.10" y1="481.46" x2="43.60" y2="481.46" stroke="#222" stroke-width="1" />
<line x1="356.50" y1="481.46" x2="360.00" y2="481.46" stroke="#222" stroke-width="1" />
<line x1="47.10" y1="485.97" x2="45.10" y2="485.97" stroke="#222" stroke-width="1" />
<line x1="356.50" y1="485.97" x2="358.50" y2="485.97" stroke="#222" stroke-width="1" />
<line x1="47.10" y1="490.48" x2="45.10" y2="490.48" stroke="#222" stroke-width="1" />
<line x1="356.50" y1="490.48" x2="358.50" y2="490.48" stroke="#222" stroke-width="1" />
<line x1="47.10" y1="494.98" x2="45.10" y2="494.98" stroke="#222" stroke-width="1" />
<line x1="356.50" y1="494.98" x2="358.50" y2="494.98" stroke="#222" stroke-width="1" />
<line x1="47.10" y1="499.49" x2="45.10" y2="499.49" stroke="#222" stroke-width="1" />
<line x1="356.50" y1="499.49" x2="358.50" y2="499.49" stroke="#222" stroke-width="1" />
<text x="40.10" y="507.40" font-family="Liberation Sans, sans-serif" font-size="9.4" text-anchor="end" fill="#444">-0.6</text>
<line x1="47.10" y1="504.00" x2="43.60" y2="504.00" stroke="#222" stroke-width="1" />
<line x1="356.50" y1="504.00" x2="360.00" y2="504.00" stroke="#222" stroke-width="1" />
<text x="201.70" y="532.90" font-family="Liberation Sans, sans-serif" font-size="9.3" text-anchor="middle" fill="#222" font-weight="bold" textLength="35.4" lengthAdjust="spacingAndGlyphs">Time (s)</text>
<text x="18.80" y="391.20" font-family="Liberation Sans, sans-serif" font-size="9.3" text-anchor="middle" fill="#222" font-weight="bold" textLength="69.7" lengthAdjust="spacingAndGlyphs" transform="rotate(-90 18.80 391.20)">Yaw Angle (rad)</text>
<text x="63" y="304.9" font-family="Liberation Sans, sans-serif" font-size="9.3" font-weight="bold" fill="#111"><tspan font-style="italic">μ</tspan> = 0.4</text>
<rect x="53.5" y="455.3" width="71.9" height="41.7" fill="#fff" stroke="#222" stroke-width="1"/>
<line x1="56.60" y1="461.60" x2="82.60" y2="461.60" stroke="#000" stroke-width="1.7" />
<text x="85.00" y="463.90" font-family="Liberation Sans, sans-serif" font-size="8" text-anchor="start" fill="#111">Reference</text>
<line x1="56.60" y1="471.00" x2="82.60" y2="471.00" stroke="#00ff00" stroke-width="1.7" stroke-dasharray="1.2 1.4"/>
<text x="85.00" y="473.30" font-family="Liberation Sans, sans-serif" font-size="8" text-anchor="start" fill="#111">AMPC</text>
<line x1="56.60" y1="481.10" x2="82.60" y2="481.10" stroke="#ff0000" stroke-width="1.7" stroke-dasharray="5 1.7 2.3 1.7"/>
<text x="85.00" y="483.40" font-family="Liberation Sans, sans-serif" font-size="8" text-anchor="start" fill="#111">MPC</text>
<line x1="56.60" y1="491.00" x2="82.60" y2="491.00" stroke="#0000ff" stroke-width="1.7" stroke-dasharray="5.3 5"/>
<text x="85.00" y="493.30" font-family="Liberation Sans, sans-serif" font-size="8" text-anchor="start" fill="#111">LQR</text>
<path d="M409.50,401.60 C409.95,401.00 411.17,398.65 412.20,398.00 C413.23,397.35 413.92,397.55 415.70,397.70 C417.48,397.85 420.20,398.90 422.90,398.90 C425.60,398.90 428.92,398.30 431.90,397.70 C434.88,397.10 438.42,396.58 440.80,395.30 C443.18,394.02 444.42,392.53 446.20,390.00 C447.98,387.47 449.72,384.13 451.50,380.10 C453.28,376.07 455.48,369.50 456.90,365.80 C458.32,362.10 458.73,360.42 460.00,357.90 C461.27,355.38 463.17,352.25 464.50,350.70 C465.83,349.15 466.82,348.30 468.00,348.60 C469.18,348.90 470.55,350.37 471.60,352.50 C472.65,354.63 473.40,356.93 474.30,361.40 C475.20,365.87 476.12,372.45 477.00,379.30 C477.88,386.15 478.67,395.23 479.60,402.50 C480.53,409.77 481.33,415.92 482.60,422.90 C483.87,429.88 485.72,437.60 487.20,444.40 C488.68,451.20 489.90,458.87 491.50,463.70 C493.10,468.53 495.30,472.02 496.80,473.40 C498.30,474.78 499.23,472.90 500.50,472.00 C501.77,471.10 503.03,467.95 504.40,468.00 C505.77,468.05 507.28,469.43 508.70,472.30 C510.12,475.17 511.48,480.90 512.90,485.20 C514.32,489.50 515.93,497.02 517.20,498.10 C518.47,499.18 519.42,497.07 520.50,491.70 C521.58,486.33 522.63,475.57 523.70,465.90 C524.77,456.23 526.02,444.68 526.90,433.70 C527.78,422.72 528.30,411.45 529.00,400.00 C529.70,388.55 530.40,376.50 531.10,365.00 C531.80,353.50 532.32,341.18 533.20,331.00 C534.08,320.82 535.33,309.85 536.40,303.90 C537.47,297.95 538.52,296.38 539.60,295.30 C540.68,294.22 541.82,295.27 542.90,297.40 C543.98,299.53 545.03,302.73 546.10,308.10 C547.17,313.47 548.23,322.45 549.30,329.60 C550.37,336.75 551.43,344.27 552.50,351.00 C553.57,357.73 554.63,364.37 555.70,370.00 C556.77,375.63 557.72,380.52 558.90,384.80 C560.08,389.08 561.33,392.90 562.80,395.70 C564.27,398.50 566.23,400.62 567.70,401.60 C569.17,402.58 569.97,402.27 571.60,401.60 C573.23,400.93 575.37,398.55 577.50,397.60 C579.63,396.65 582.10,396.07 584.40,395.90 C586.70,395.73 588.83,396.18 591.30,396.60 C593.77,397.02 596.92,398.07 599.20,398.40 C601.48,398.73 601.58,398.57 605.00,398.60 C608.42,398.63 615.60,398.52 619.70,398.60 C623.80,398.68 626.32,398.80 629.60,399.10 C632.88,399.40 636.13,400.07 639.40,400.40 C642.67,400.73 645.92,401.03 649.20,401.10 C652.48,401.17 656.63,401.05 659.10,400.80 C661.57,400.55 662.35,400.10 664.00,399.60 C665.65,399.10 668.17,398.10 669.00,397.80" fill="none" stroke="#0000ff" stroke-width="2" stroke-linejoin="round" stroke-linecap="butt" clip-path="url(#cD)"/>
<path d="M409.50,398.00 C410.10,396.52 412.07,389.98 413.10,389.10 C414.13,388.22 414.67,391.07 415.70,392.70 C416.73,394.33 418.10,397.57 419.30,398.90 C420.50,400.23 421.10,401.00 422.90,400.70 C424.70,400.40 427.72,397.85 430.10,397.10 C432.48,396.35 434.82,397.08 437.20,396.20 C439.58,395.32 442.02,394.18 444.40,391.80 C446.78,389.42 449.12,385.93 451.50,381.90 C453.88,377.87 456.83,371.32 458.70,367.60 C460.57,363.88 461.58,360.78 462.70,359.60 C463.82,358.42 464.52,359.90 465.40,360.50 C466.28,361.10 467.12,361.27 468.00,363.20 C468.88,365.13 469.80,368.23 470.70,372.10 C471.60,375.97 472.50,381.63 473.40,386.40 C474.30,391.17 475.20,395.93 476.10,400.70 C477.00,405.47 477.92,410.53 478.80,415.00 C479.68,419.47 480.37,422.95 481.40,427.50 C482.43,432.05 483.50,437.68 485.00,442.30 C486.50,446.92 488.60,451.80 490.40,455.20 C492.20,458.60 494.20,461.65 495.80,462.70 C497.40,463.75 498.57,462.03 500.00,461.50 C501.43,460.97 502.95,459.13 504.40,459.50 C505.85,459.87 507.28,461.57 508.70,463.70 C510.12,465.83 511.30,470.32 512.90,472.30 C514.50,474.28 516.87,475.95 518.30,475.60 C519.73,475.25 520.60,474.32 521.50,470.20 C522.40,466.08 522.98,458.78 523.70,450.90 C524.42,443.02 525.22,432.22 525.80,422.90 C526.38,413.58 526.67,403.48 527.20,395.00 C527.73,386.52 528.18,380.05 529.00,372.00 C529.82,363.95 531.03,354.85 532.10,346.70 C533.17,338.55 534.32,329.53 535.40,323.10 C536.48,316.67 537.72,311.30 538.60,308.10 C539.48,304.90 539.82,303.53 540.70,303.90 C541.58,304.27 543.00,306.38 543.90,310.30 C544.80,314.22 545.38,320.27 546.10,327.40 C546.82,334.53 547.32,345.33 548.20,353.10 C549.08,360.87 550.45,367.88 551.40,374.00 C552.35,380.12 552.82,385.05 553.90,389.80 C554.98,394.55 556.58,399.32 557.90,402.50 C559.22,405.68 560.33,408.23 561.80,408.90 C563.27,409.57 565.07,408.05 566.70,406.50 C568.33,404.95 569.80,402.07 571.60,399.60 C573.40,397.13 575.53,393.50 577.50,391.70 C579.47,389.90 581.43,388.63 583.40,388.80 C585.37,388.97 587.48,391.23 589.30,392.70 C591.12,394.17 592.65,395.97 594.30,397.60 C595.95,399.23 597.57,401.18 599.20,402.50 C600.83,403.82 602.48,405.17 604.10,405.50 C605.72,405.83 606.78,405.18 608.90,404.50 C611.02,403.82 614.50,402.38 616.80,401.40 C619.10,400.42 620.40,399.27 622.70,398.60 C625.00,397.93 628.47,397.53 630.60,397.40 C632.73,397.27 633.22,397.43 635.50,397.80 C637.78,398.17 641.18,399.05 644.30,399.60 C647.42,400.15 651.57,400.85 654.20,401.10 C656.83,401.35 658.13,401.35 660.10,401.10 C662.07,400.85 664.52,400.10 666.00,399.60 C667.48,399.10 668.50,398.35 669.00,398.10" fill="none" stroke="#ff0000" stroke-width="2" stroke-linejoin="round" stroke-linecap="butt" stroke-dasharray="7 5.4" clip-path="url(#cD)"/>
<path d="M409.30,422.50 C409.63,418.12 410.67,402.22 411.30,396.20 C411.93,390.18 412.37,387.58 413.10,386.40 C413.83,385.22 414.82,386.87 415.70,389.10 C416.58,391.33 417.20,396.97 418.40,399.80 C419.60,402.63 420.95,405.20 422.90,406.10 C424.85,407.00 427.72,405.20 430.10,405.20 C432.48,405.20 435.12,406.25 437.20,406.10 C439.28,405.95 440.80,405.65 442.60,404.30 C444.40,402.95 446.22,401.13 448.00,398.00 C449.78,394.87 451.52,389.67 453.30,385.50 C455.08,381.33 457.35,375.68 458.70,373.00 C460.05,370.32 460.73,369.83 461.40,369.40 C462.07,368.97 461.88,369.05 462.70,370.40 C463.52,371.75 465.12,373.63 466.30,377.50 C467.48,381.37 468.77,388.53 469.80,393.60 C470.83,398.67 471.45,403.43 472.50,407.90 C473.55,412.37 474.77,417.73 476.10,420.40 C477.43,423.07 479.02,423.55 480.50,423.90 C481.98,424.25 483.65,422.40 485.00,422.50 C486.35,422.60 487.42,422.77 488.60,424.50 C489.78,426.23 491.08,429.58 492.10,432.90 C493.12,436.22 493.63,443.22 494.70,444.40 C495.77,445.58 497.25,441.07 498.50,440.00 C499.75,438.93 500.87,436.18 502.20,438.00 C503.53,439.82 504.88,445.90 506.50,450.90 C508.12,455.90 510.47,465.50 511.90,468.00 C513.33,470.50 514.22,469.83 515.10,465.90 C515.98,461.97 516.67,451.57 517.20,444.40 C517.73,437.23 517.95,430.63 518.30,422.90 C518.65,415.17 518.92,405.48 519.30,398.00 C519.68,390.52 520.07,383.83 520.60,378.00 C521.13,372.17 521.28,368.57 522.50,363.00 C523.72,357.43 526.12,349.45 527.90,344.60 C529.68,339.75 531.78,333.90 533.20,333.90 C534.62,333.90 535.50,345.32 536.40,344.60 C537.30,343.88 538.07,335.68 538.60,329.60 C539.13,323.52 539.25,315.25 539.60,308.10 C539.95,300.95 540.33,292.38 540.70,286.70 C541.07,281.02 541.43,276.12 541.80,274.00 C542.17,271.88 542.55,270.10 542.90,274.00 C543.25,277.90 543.55,288.13 543.90,297.40 C544.25,306.67 544.47,320.67 545.00,329.60 C545.53,338.53 546.20,344.58 547.10,351.00 C548.00,357.42 549.50,363.43 550.40,368.10 C551.30,372.77 551.75,374.57 552.50,379.00 C553.25,383.43 554.00,389.95 554.90,394.70 C555.80,399.45 556.92,404.07 557.90,407.50 C558.88,410.93 559.82,413.67 560.80,415.30 C561.78,416.93 562.82,417.47 563.80,417.30 C564.78,417.13 565.55,416.27 566.70,414.30 C567.85,412.33 569.38,409.27 570.70,405.50 C572.02,401.73 573.30,395.63 574.60,391.70 C575.90,387.77 577.35,383.95 578.50,381.90 C579.65,379.85 580.52,379.57 581.50,379.40 C582.48,379.23 583.25,379.33 584.40,380.90 C585.55,382.47 587.08,386.02 588.40,388.80 C589.72,391.58 591.00,394.65 592.30,397.60 C593.60,400.55 594.88,403.95 596.20,406.50 C597.52,409.05 599.05,411.75 600.20,412.90 C601.35,414.05 601.97,413.98 603.10,413.40 C604.23,412.82 605.87,410.72 607.00,409.40 C608.13,408.08 608.60,407.95 609.90,405.50 C611.20,403.05 613.17,397.98 614.80,394.70 C616.43,391.42 617.90,387.85 619.70,385.80 C621.50,383.75 623.63,382.57 625.60,382.40 C627.57,382.23 629.53,383.25 631.50,384.80 C633.47,386.35 635.58,389.23 637.40,391.70 C639.22,394.17 640.75,396.98 642.40,399.60 C644.05,402.22 645.50,405.12 647.30,407.40 C649.10,409.68 651.40,412.02 653.20,413.30 C655.00,414.58 656.47,415.17 658.10,415.10 C659.73,415.03 661.52,414.33 663.00,412.90 C664.48,411.47 666.00,408.55 667.00,406.50 C668.00,404.45 668.67,401.58 669.00,400.60" fill="none" stroke="#00ff00" stroke-width="2" stroke-linejoin="round" stroke-linecap="butt" stroke-dasharray="7 1.1 3.9 1.1" clip-path="url(#cD)"/>
<rect x="409.2" y="277.6" width="259.8" height="226.2" fill="none" stroke="#777" stroke-width="1.4"/>
<text transform="translate(409.20 517.4) scale(0.87 1)" x="0" y="0" font-family="Liberation Sans, sans-serif" font-size="11" text-anchor="middle" fill="#222">0</text>
<line x1="474.85" y1="503.80" x2="474.85" y2="501.30" stroke="#333" stroke-width="1" />
<line x1="474.85" y1="277.60" x2="474.85" y2="280.10" stroke="#333" stroke-width="1" />
<text transform="translate(474.85 517.4) scale(0.87 1)" x="0" y="0" font-family="Liberation Sans, sans-serif" font-size="11" text-anchor="middle" fill="#222">5</text>
<line x1="540.50" y1="503.80" x2="540.50" y2="501.30" stroke="#333" stroke-width="1" />
<line x1="540.50" y1="277.60" x2="540.50" y2="280.10" stroke="#333" stroke-width="1" />
<text transform="translate(541.30 517.4) scale(0.87 1)" x="0" y="0" font-family="Liberation Sans, sans-serif" font-size="11" text-anchor="middle" fill="#222">10</text>
<line x1="606.15" y1="503.80" x2="606.15" y2="501.30" stroke="#333" stroke-width="1" />
<line x1="606.15" y1="277.60" x2="606.15" y2="280.10" stroke="#333" stroke-width="1" />
<text transform="translate(606.95 517.4) scale(0.87 1)" x="0" y="0" font-family="Liberation Sans, sans-serif" font-size="11" text-anchor="middle" fill="#222">15</text>
<line x1="409.20" y1="308.70" x2="411.70" y2="308.70" stroke="#333" stroke-width="1" />
<line x1="669.00" y1="308.70" x2="666.50" y2="308.70" stroke="#333" stroke-width="1" />
<text transform="translate(405.8 312.60) scale(0.87 1)" x="0" y="0" font-family="Liberation Sans, sans-serif" font-size="11" text-anchor="end" fill="#222">0.1</text>
<line x1="409.20" y1="355.20" x2="411.70" y2="355.20" stroke="#333" stroke-width="1" />
<line x1="669.00" y1="355.20" x2="666.50" y2="355.20" stroke="#333" stroke-width="1" />
<text transform="translate(405.8 359.10) scale(0.87 1)" x="0" y="0" font-family="Liberation Sans, sans-serif" font-size="11" text-anchor="end" fill="#222">0.05</text>
<line x1="409.20" y1="401.70" x2="411.70" y2="401.70" stroke="#333" stroke-width="1" />
<line x1="669.00" y1="401.70" x2="666.50" y2="401.70" stroke="#333" stroke-width="1" />
<text transform="translate(405.8 405.60) scale(0.87 1)" x="0" y="0" font-family="Liberation Sans, sans-serif" font-size="11" text-anchor="end" fill="#222">0</text>
<line x1="409.20" y1="448.20" x2="411.70" y2="448.20" stroke="#333" stroke-width="1" />
<line x1="669.00" y1="448.20" x2="666.50" y2="448.20" stroke="#333" stroke-width="1" />
<text transform="translate(405.8 452.10) scale(0.87 1)" x="0" y="0" font-family="Liberation Sans, sans-serif" font-size="11" text-anchor="end" fill="#222">-0.05</text>
<line x1="409.20" y1="494.70" x2="411.70" y2="494.70" stroke="#333" stroke-width="1" />
<line x1="669.00" y1="494.70" x2="666.50" y2="494.70" stroke="#333" stroke-width="1" />
<text transform="translate(405.8 498.60) scale(0.87 1)" x="0" y="0" font-family="Liberation Sans, sans-serif" font-size="11" text-anchor="end" fill="#222">-0.1</text>
<text x="539.70" y="531.50" font-family="Liberation Sans, sans-serif" font-size="10.2" text-anchor="middle" fill="#222" textLength="36.9" lengthAdjust="spacingAndGlyphs">Time (s)</text>
<text x="379.60" y="390.50" font-family="Liberation Sans, sans-serif" font-size="10" text-anchor="middle" fill="#222" textLength="127.9" lengthAdjust="spacingAndGlyphs" transform="rotate(-90 379.60 390.50)">Steering Angle (degrees)</text>
<text x="539.70" y="273.10" font-family="Liberation Sans, sans-serif" font-size="11" text-anchor="middle" fill="#111" font-weight="bold" textLength="137" lengthAdjust="spacingAndGlyphs">Steering Angle Comparison</text>
<text x="420.1" y="290.9" font-family="Liberation Sans, sans-serif" font-size="11.4" fill="#111" textLength="29.4" lengthAdjust="spacingAndGlyphs">μ = 0.4</text>
<rect x="610.2" y="329.4" width="53.2" height="31.3" rx="1.5" fill="#fff" stroke="#333" stroke-width="1"/>
<line x1="612.90" y1="335.10" x2="636.80" y2="335.10" stroke="#0000ff" stroke-width="2" />
<text x="638.80" y="337.60" font-family="Liberation Sans, sans-serif" font-size="7.8" text-anchor="start" fill="#111">AMPC</text>
<line x1="612.90" y1="344.90" x2="636.80" y2="344.90" stroke="#ff0000" stroke-width="2" stroke-dasharray="7 5.4"/>
<text x="638.80" y="347.40" font-family="Liberation Sans, sans-serif" font-size="7.8" text-anchor="start" fill="#111">MPC</text>
<line x1="612.90" y1="354.80" x2="636.80" y2="354.80" stroke="#00ff00" stroke-width="2" stroke-dasharray="7 1.1 3.9 1.1"/>
<text x="638.80" y="357.30" font-family="Liberation Sans, sans-serif" font-size="7.8" text-anchor="start" fill="#111">LQR</text>
<text x="21.60" y="247.20" font-family="Liberation Serif, serif" font-size="14.6" text-anchor="start" fill="#000">A.</text>
<text x="48.60" y="247.20" font-family="Liberation Serif, serif" font-size="14.6" text-anchor="start" fill="#000" textLength="172.4" lengthAdjust="spacingAndGlyphs">Lateral position performance.</text>
<text x="388.00" y="248.10" font-family="Liberation Serif, serif" font-size="14.8" text-anchor="start" fill="#000" textLength="200.7" lengthAdjust="spacingAndGlyphs">B. Yaw rate tracking performance</text>
<text x="0.30" y="556.10" font-family="Liberation Serif, serif" font-size="14.8" text-anchor="start" fill="#000" textLength="158.0" lengthAdjust="spacingAndGlyphs">C. Yaw angle performance</text>
<text x="398.50" y="556.10" font-family="Liberation Serif, serif" font-size="14.8" text-anchor="start" fill="#000" textLength="230.1" lengthAdjust="spacingAndGlyphs">D. Steering Angle control performance</text>
</svg>
</body></html>
